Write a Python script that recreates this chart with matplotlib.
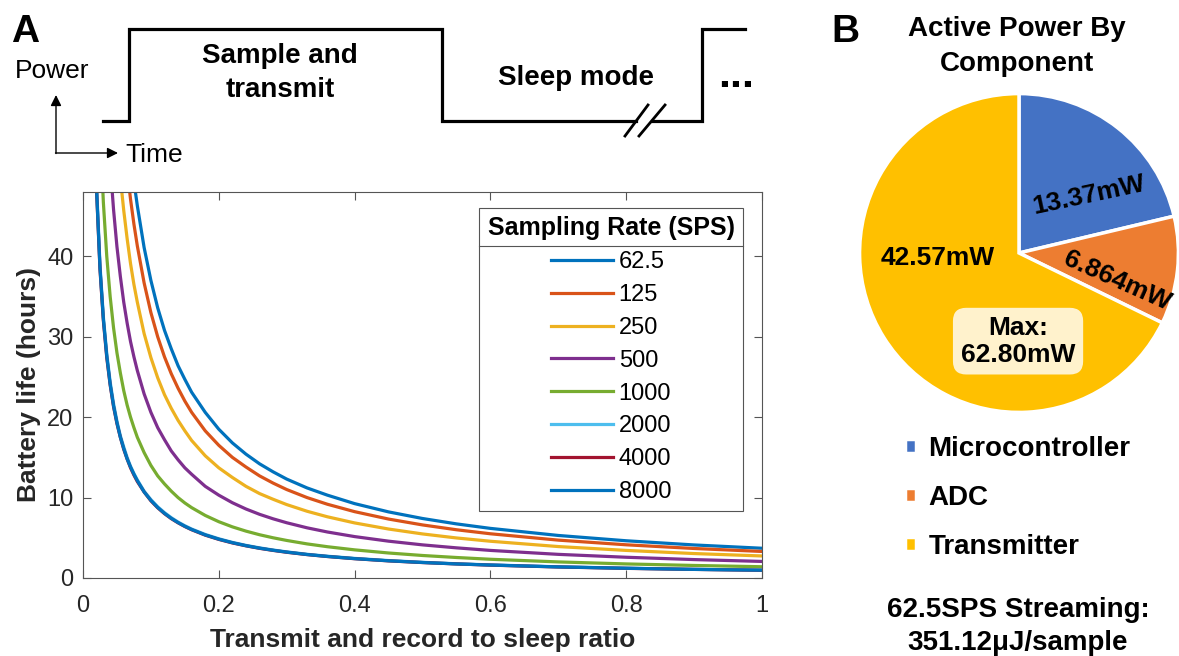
import matplotlib.pyplot as plt
import numpy as np

plt.rcParams['font.family'] = ['Liberation Sans', 'DejaVu Sans']

nan = np.nan

# ------------------------------------------------------------------
# Data
# ------------------------------------------------------------------
# Panel A: battery life (hours) vs transmit/record to sleep ratio
ratio = [0.02, 0.025, 0.03, 0.035, 0.04, 0.045, 0.05, 0.055, 0.06, 0.065,
         0.07, 0.075, 0.08, 0.09, 0.1, 0.11, 0.12, 0.13, 0.14, 0.15,
         0.16, 0.18, 0.2, 0.22, 0.24, 0.26, 0.28, 0.3, 0.33, 0.36,
         0.4, 0.45, 0.5, 0.55, 0.6, 0.7, 0.8, 0.9, 1.0]

life_62_5 = [nan, nan, nan, nan, nan, nan, nan, nan, nan, nan,
             nan, 49.3, 46.3, 41.1, 37.0, 33.6, 30.8, 28.5, 26.4, 24.7,
             23.1, 20.6, 18.5, 16.8, 15.4, 14.2, 13.2, 12.3, 11.2, 10.3,
             9.25, 8.22, 7.40, 6.73, 6.17, 5.29, 4.63, 4.11, 3.70]
life_125 = [nan, nan, nan, nan, nan, nan, nan, nan, nan, 50.8,
            47.1, 44.0, 41.3, 36.7, 33.0, 30.0, 27.5, 25.4, 23.6, 22.0,
            20.6, 18.3, 16.5, 15.0, 13.8, 12.7, 11.8, 11.0, 10.0, 9.17,
            8.25, 7.33, 6.60, 6.00, 5.50, 4.71, 4.13, 3.67, 3.30]
life_250 = [nan, nan, nan, nan, nan, nan, nan, 49.8, 45.7, 42.2,
            39.1, 36.5, 34.3, 30.4, 27.4, 24.9, 22.8, 21.1, 19.6, 18.3,
            17.1, 15.2, 13.7, 12.5, 11.4, 10.5, 9.79, 9.13, 8.30, 7.61,
            6.85, 6.09, 5.48, 4.98, 4.57, 3.91, 3.43, 3.04, 2.74]
life_500 = [nan, nan, nan, nan, 51.5, 45.8, 41.2, 37.5, 34.3, 31.7,
            29.4, 27.5, 25.8, 22.9, 20.6, 18.7, 17.2, 15.8, 14.7, 13.7,
            12.9, 11.4, 10.3, 9.36, 8.58, 7.92, 7.36, 6.87, 6.24, 5.72,
            5.15, 4.58, 4.12, 3.75, 3.43, 2.94, 2.58, 2.29, 2.06]
life_1000 = [nan, 56.0, 46.7, 40.0, 35.0, 31.1, 28.0, 25.5, 23.3, 21.5,
             20.0, 18.7, 17.5, 15.6, 14.0, 12.7, 11.7, 10.8, 10.0, 9.33,
             8.75, 7.78, 7.00, 6.36, 5.83, 5.38, 5.00, 4.67, 4.24, 3.89,
             3.50, 3.11, 2.80, 2.55, 2.33, 2.00, 1.75, 1.56, 1.40]
life_2000 = [48.8, 39.0, 32.5, 27.9, 24.4, 21.7, 19.5, 17.7, 16.3, 15.0,
             13.9, 13.0, 12.2, 10.8, 9.75, 8.86, 8.13, 7.50, 6.96, 6.50,
             6.09, 5.42, 4.88, 4.43, 4.06, 3.75, 3.48, 3.25, 2.95, 2.71,
             2.44, 2.17, 1.95, 1.77, 1.63, 1.39, 1.22, 1.08, 0.98]
life_4000 = [48.1, 38.4, 32.0, 27.4, 24.0, 21.3, 19.2, 17.5, 16.0, 14.8,
             13.7, 12.8, 12.0, 10.7, 9.60, 8.73, 8.00, 7.38, 6.86, 6.40,
             6.00, 5.33, 4.80, 4.36, 4.00, 3.69, 3.43, 3.20, 2.91, 2.67,
             2.40, 2.13, 1.92, 1.75, 1.60, 1.37, 1.20, 1.07, 0.96]
life_8000 = [48.3, 38.6, 32.2, 27.6, 24.1, 21.4, 19.3, 17.5, 16.1, 14.8,
             13.8, 12.9, 12.1, 10.7, 9.65, 8.77, 8.04, 7.42, 6.89, 6.43,
             6.03, 5.36, 4.83, 4.39, 4.02, 3.71, 3.45, 3.22, 2.92, 2.68,
             2.41, 2.14, 1.93, 1.75, 1.61, 1.38, 1.21, 1.07, 0.97]

sps_labels = ['62.5', '125', '250', '500', '1000', '2000', '4000', '8000']
series = [life_62_5, life_125, life_250, life_500, life_1000, life_2000, life_4000, life_8000]
colors = ['#0072BD', '#D95319', '#EDB120', '#7E2F8E', '#77AC30', '#4DBEEE', '#A2142F', '#0072BD']

x_ticks = [0, 0.2, 0.4, 0.6, 0.8, 1]
x_tick_labels = ['0', '0.2', '0.4', '0.6', '0.8', '1']
y_ticks = [0, 10, 20, 30, 40]

# Panel B: active power by component (mW)
components = ['Microcontroller', 'ADC', 'Transmitter']
power_mw = [13.37, 6.864, 42.57]
power_labels = ['13.37mW', '6.864mW', '42.57mW']
pie_colors = ['#4472C4', '#ED7D31', '#FFC000']

# Schematic timing diagram (figure pixels, y down)
wave1_x = [103, 129, 129, 442, 442, 636]
wave1_y = [121, 121, 29, 29, 121, 121]
wave2_x = [652, 702, 702, 745]
wave2_y = [121, 121, 29, 29]

# ------------------------------------------------------------------
# Figure
# ------------------------------------------------------------------
W, H = 1179, 656
fig = plt.figure(figsize=(W / 100, H / 100), dpi=100)

# overlay for the schematic and free text
ax0 = fig.add_axes([0, 0, 1, 1])
ax0.set_xlim(0, W)
ax0.set_ylim(H, 0)
ax0.axis('off')

ax0.plot(wave1_x, wave1_y, color='black', lw=2.3, solid_joinstyle='miter')
ax0.plot(wave2_x, wave2_y, color='black', lw=2.3, solid_joinstyle='miter')
ax0.plot([625, 648], [136, 105], color='black', lw=2)
ax0.plot([639, 665], [136, 105], color='black', lw=2)

arrow = dict(arrowstyle='-|>', color='black', lw=1, mutation_scale=16, shrinkA=0, shrinkB=0)
ax0.annotate('', xy=(56, 95), xytext=(56, 153.5), arrowprops=arrow)
ax0.annotate('', xy=(118, 153), xytext=(55.5, 153), arrowprops=arrow)

ax0.text(25, 42, 'A', fontsize=28, fontweight='bold', ha='center', va='baseline')
ax0.text(845, 42, 'B', fontsize=28, fontweight='bold', ha='center', va='baseline')
ax0.text(52, 78, 'Power', fontsize=19, ha='center', va='baseline')
ax0.text(125, 162, 'Time', fontsize=19, ha='left', va='baseline')
ax0.text(280, 63, 'Sample and', fontsize=20, fontweight='bold', ha='center', va='baseline')
ax0.text(280, 97, 'transmit', fontsize=20, fontweight='bold', ha='center', va='baseline')
ax0.text(576, 85, 'Sleep mode', fontsize=20, fontweight='bold', ha='center', va='baseline')
ax0.text(736, 87, '...', fontsize=31, fontweight='bold', ha='center', va='baseline')

ax0.text(1017, 36, 'Active Power By', fontsize=20, fontweight='bold', ha='center', va='baseline')
ax0.text(1017, 71, 'Component', fontsize=20, fontweight='bold', ha='center', va='baseline')
ax0.text(1018, 617, '62.5SPS Streaming:', fontsize=20, fontweight='bold', ha='center', va='baseline')
ax0.text(1018, 650, '351.12\u03bcJ/sample', fontsize=20, fontweight='bold', ha='center', va='baseline')

# --- Panel A: battery life curves
ax1 = fig.add_axes([83 / W, 1 - 578 / H, 679 / W, 386 / H])
for vals, lab, col in zip(series, sps_labels, colors):
    ax1.plot(ratio, vals, color=col, lw=2.3, label=lab)
ax1.set_xlim(0, 1)
ax1.set_ylim(0, 48)
ax1.set_xticks(x_ticks)
ax1.set_xticklabels(x_tick_labels)
ax1.set_yticks(y_ticks)
ax1.tick_params(direction='in', length=6, width=0.8, colors='#555555', labelcolor='#262626',
                labelsize=17, top=True, right=True)
ax1.tick_params(axis='x', pad=12)
ax1.tick_params(axis='y', pad=7)
for s in ax1.spines.values():
    s.set_color('#555555')
    s.set_linewidth(0.8)
ax1.set_xlabel('Transmit and record to sleep ratio', fontsize=19, fontweight='bold',
               color='#262626', labelpad=8)
ax1.set_ylabel('Battery life (hours)', fontsize=19, fontweight='bold', color='#262626',
               labelpad=4)

leg = ax1.legend(title='Sampling Rate (SPS)', loc='upper right',
                 bbox_to_anchor=((743 - 83) / 679, (578 - 208) / 386),
                 fontsize=17, title_fontproperties={'weight': 'bold', 'size': 18},
                 fancybox=False, edgecolor='#555555', framealpha=1,
                 borderaxespad=0, handlelength=2.6, handletextpad=0.25,
                 labelspacing=0.46, borderpad=0.35, alignment='center')
leg.get_frame().set_linewidth(0.8)
for line in leg.get_lines():
    line.set_linewidth(2.3)

# --- Panel B: pie chart
ax2 = fig.add_axes([(1019 - 161) / W, 1 - (253 + 161) / H, 322 / W, 322 / H])
wedges, _ = ax2.pie(power_mw, colors=pie_colors, startangle=90, counterclock=False,
                    radius=1, wedgeprops=dict(edgecolor='white', linewidth=2.5))
ax2.set_xlim(-1.01, 1.01)
ax2.set_ylim(-1.01, 1.01)

ax2.text(0.441, 0.360, power_labels[0], fontsize=19, fontweight='bold', ha='center', va='center',
         rotation=12, rotation_mode='anchor')
ax2.text(0.617, -0.178, power_labels[1], fontsize=19, fontweight='bold', ha='center', va='center',
         rotation=-24, rotation_mode='anchor')
ax2.text(-0.511, -0.033, power_labels[2], fontsize=19, fontweight='bold', ha='center', va='center')
ax2.text(-0.006, -0.553, 'Max:\n62.80mW', fontsize=19, fontweight='bold', ha='center', va='center',
         linespacing=1.15,
         bbox=dict(boxstyle='round,pad=0.3,rounding_size=0.5', fc='#FFF2CC', ec='none'))

fig.legend(wedges, components, loc='upper left', bbox_to_anchor=(905 / W, 1 - 436 / H),
           frameon=False, prop={'weight': 'bold', 'size': 20},
           handlelength=0.4, handleheight=0.4, handletextpad=0.45,
           labelspacing=0.82, borderpad=0, borderaxespad=0)

# separator under the legend title (MATLAB style)
fig.canvas.draw()
tb = leg.get_title().get_window_extent()
eb = leg.get_texts()[0].get_window_extent()
fb = leg.get_frame().get_window_extent()
ysep = (tb.y0 + eb.y1) / 2
fig.add_artist(plt.Line2D([fb.x0 / W, fb.x1 / W], [ysep / H, ysep / H],
                          transform=fig.transFigure, color='#555555', lw=0.8))

fig.savefig('out.png', dpi=100)
